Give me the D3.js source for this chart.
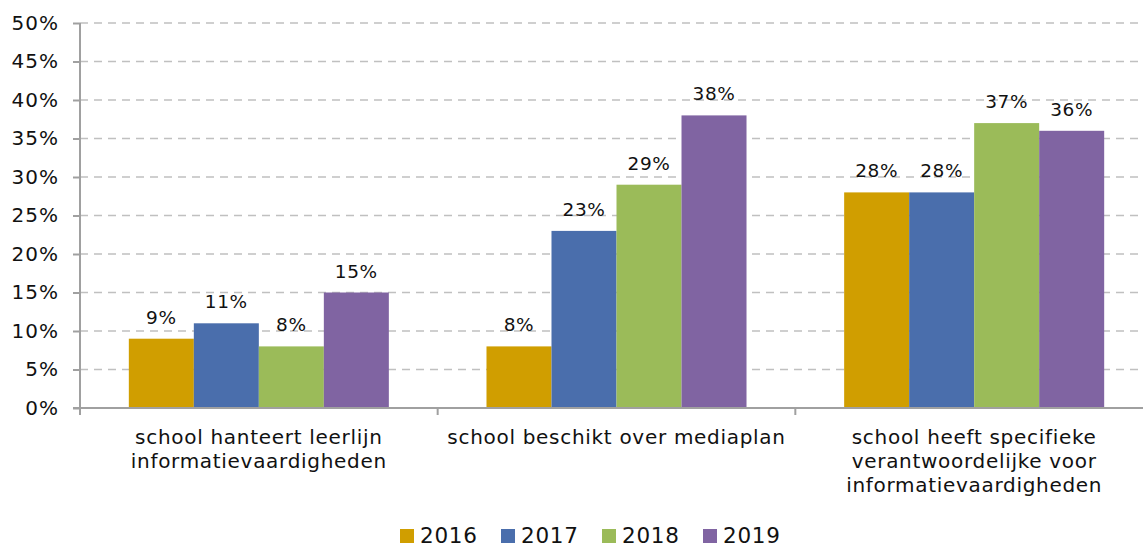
<!DOCTYPE html>
<html>
<head>
<meta charset="utf-8">
<script src="https://cdn.jsdelivr.net/npm/d3@7"></script>
<style>
  body { margin: 0; background: #fff; }
  svg { display: block; font-family: Verdana, "DejaVu Sans", sans-serif; }
</style>
</head>
<body>
<div id="chart"></div>
<script>
// data
var categories = [
  ["school hanteert leerlijn", "informatievaardigheden"],
  ["school beschikt over mediaplan"],
  ["school heeft specifieke", "verantwoordelijke voor", "informatievaardigheden"]
];
var years = ["2016", "2017", "2018", "2019"];
var values2016 = [9, 8, 28];
var values2017 = [11, 23, 28];
var values2018 = [8, 29, 37];
var values2019 = [15, 38, 36];
var yTicks = [0, 5, 10, 15, 20, 25, 30, 35, 40, 45, 50];
var colors = ["#d09e00", "#4a6eac", "#9bbb59", "#8064a2"];

var series = [values2016, values2017, values2018, values2019];

var width = 1143, height = 549;
var margin = { left: 80, top: 23, right: -10, bottom: 141 };
var plotW = width - margin.left - margin.right;
var plotH = height - margin.top - margin.bottom;

var svg = d3.select("#chart").append("svg")
  .attr("width", width)
  .attr("height", height);

var g = svg.append("g")
  .attr("transform", "translate(" + margin.left + "," + margin.top + ")");

var x0 = d3.scaleBand()
  .domain(d3.range(categories.length))
  .range([0, plotW]);

var x1 = d3.scaleBand()
  .domain(years)
  .range([0, x0.bandwidth() * 0.727])
  .padding(0);

var y = d3.scaleLinear()
  .domain([0, 50])
  .range([plotH, 0]);

//
// gridlines
//
g.selectAll(".grid")
  .data(yTicks.filter(function (t) { return t > 0; }))
  .enter().append("line")
  .attr("class", "grid")
  .attr("x1", 0)
  .attr("x2", plotW)
  .attr("y1", function (d) { return y(d); })
  .attr("y2", function (d) { return y(d); })
  .style("stroke", "#c0c0c0")
  .style("stroke-width", 1.5)
  .style("stroke-dasharray", "8,6");

//
// bars
//
var groupOffset = (x0.bandwidth() - x1.range()[1]) / 2;

var groups = g.selectAll(".group")
  .data(categories)
  .enter().append("g")
  .attr("class", "group")
  .attr("transform", function (d, i) {
    return "translate(" + (x0(i) + groupOffset) + ",0)";
  });

groups.selectAll("rect")
  .data(function (d, i) {
    return years.map(function (yr, s) { return { year: yr, s: s, v: series[s][i] }; });
  })
  .enter().append("rect")
  .attr("x", function (d) { return x1(d.year); })
  .attr("width", x1.bandwidth())
  .attr("y", function (d) { return y(d.v); })
  .attr("height", function (d) { return plotH - y(d.v); })
  .style("fill", function (d) { return colors[d.s]; });

// value labels
groups.selectAll(".val")
  .data(function (d, i) {
    return years.map(function (yr, s) { return { year: yr, s: s, v: series[s][i] }; });
  })
  .enter().append("text")
  .attr("class", "val")
  .attr("x", function (d) { return x1(d.year) + x1.bandwidth() / 2; })
  .attr("y", function (d) { return y(d.v) - 15; })
  .attr("text-anchor", "middle")
  .style("font-size", "18.5px")
  .style("letter-spacing", "0.6px")
  .style("fill", "#111")
  .text(function (d) { return d.v + "%"; });

//
// axes
//
var yAxis = d3.axisLeft(y)
  .tickValues(yTicks)
  .tickSize(7)
  .tickPadding(14)
  .tickFormat(function (d) { return d + "%"; });

var yG = g.append("g").call(yAxis);
yG.select(".domain").remove();
yG.append("line")
  .attr("x1", 0).attr("x2", 0)
  .attr("y1", 0).attr("y2", plotH)
  .style("stroke", "#a0a0a0").style("stroke-width", 2);
yG.selectAll(".tick line").style("stroke", "#a0a0a0").style("stroke-width", 2);
yG.selectAll(".tick text")
  .style("font-size", "20px")
  .style("letter-spacing", "1px")
  .style("font-family", "Verdana, 'DejaVu Sans', sans-serif")
  .style("fill", "#111");

// x axis line and category separators
var xG = g.append("g").attr("transform", "translate(0," + plotH + ")");
xG.append("line")
  .attr("x1", -7).attr("x2", plotW)
  .style("stroke", "#a0a0a0").style("stroke-width", 2);
xG.selectAll(".sep")
  .data(d3.range(categories.length + 1))
  .enter().append("line")
  .attr("class", "sep")
  .attr("x1", function (i) { return i * x0.step(); })
  .attr("x2", function (i) { return i * x0.step(); })
  .attr("y1", 0).attr("y2", 7)
  .style("stroke", "#a0a0a0").style("stroke-width", 2);

// category labels
var catText = xG.selectAll(".cat")
  .data(categories)
  .enter().append("text")
  .attr("class", "cat")
  .attr("text-anchor", "middle")
  .attr("x", function (d, i) { return x0(i) + x0.bandwidth() / 2; })
  .attr("y", 36)
  .style("font-size", "20px")
  .style("letter-spacing", "0.7px")
  .style("fill", "#111");

catText.selectAll("tspan")
  .data(function (d) { return d; })
  .enter().append("tspan")
  .attr("x", function () { return d3.select(this.parentNode).attr("x"); })
  .attr("dy", function (d, i) { return i === 0 ? 0 : 24; })
  .text(function (d) { return d; });

//
// legend
//
var legend = svg.append("g").attr("transform", "translate(400,529)");
var item = legend.selectAll(".item")
  .data(years)
  .enter().append("g")
  .attr("class", "item")
  .attr("transform", function (d, i) { return "translate(" + (i * 101) + ",0)"; });
item.append("rect")
  .attr("width", 14).attr("height", 14)
  .style("fill", function (d, i) { return colors[i]; });
item.append("text")
  .attr("x", 20).attr("y", 14)
  .style("font-size", "21.5px")
  .style("letter-spacing", "0.7px")
  .style("fill", "#111")
  .text(function (d) { return d; });
</script>
</body>
</html>
